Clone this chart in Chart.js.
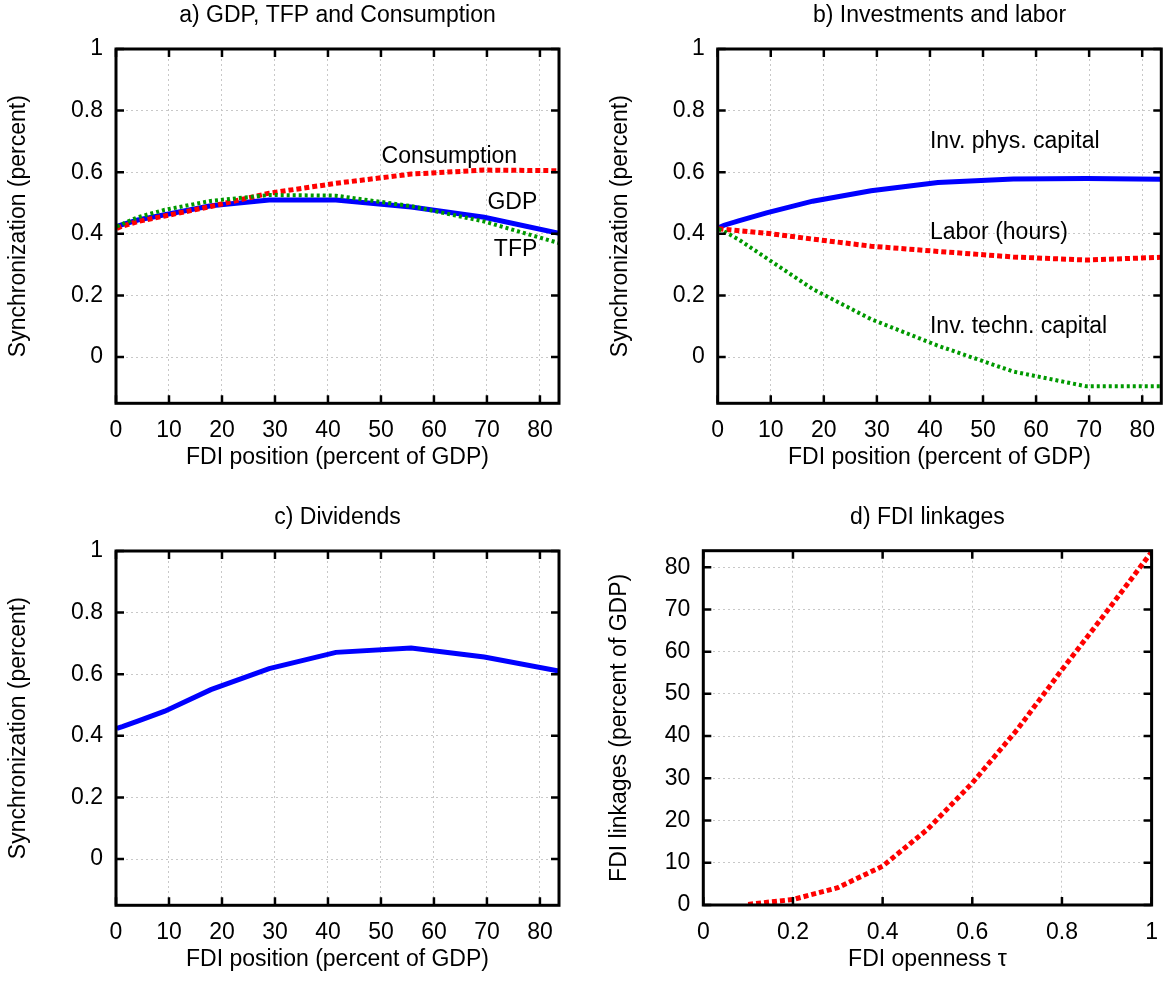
<!DOCTYPE html>
<html lang="en">
<head>
<meta charset="UTF-8">
<title>FDI position and synchronization</title>
<script src="https://cdn.jsdelivr.net/npm/chart.js@4"></script>
<style>
  body { margin: 0; background: #fff; }
  #page { position: relative; width: 1172px; height: 982px; overflow: hidden; }
  .panel { position: absolute; }
</style>
</head>
<body>
<div id="page">
  <div class="panel" style="left:0px;top:0px;width:586px;height:480px"><canvas id="chartA"></canvas></div>
  <div class="panel" style="left:602px;top:0px;width:570px;height:480px"><canvas id="chartB"></canvas></div>
  <div class="panel" style="left:0px;top:502px;width:586px;height:480px"><canvas id="chartC"></canvas></div>
  <div class="panel" style="left:600px;top:502px;width:572px;height:480px"><canvas id="chartD"></canvas></div>
</div>

<script>
// values
const fdiPosition = [0.15, 1.2, 4.1, 9.2, 17.9, 28.9, 41.5, 55.7, 69.5, 83.6];

// a) GDP, TFP and Consumption
const gdp         = [0.424, 0.43, 0.445, 0.462, 0.491, 0.51, 0.51, 0.487, 0.454, 0.402];
const consumption = [0.418, 0.425, 0.44, 0.458, 0.489, 0.532, 0.564, 0.594, 0.607, 0.605];
const tfp         = [0.424, 0.432, 0.454, 0.478, 0.507, 0.526, 0.524, 0.49, 0.44, 0.37];

// b) Investments and labor
const invPhys  = [0.42, 0.428, 0.443, 0.468, 0.506, 0.54, 0.567, 0.578, 0.58, 0.577];
const labor    = [0.417, 0.415, 0.41, 0.402, 0.383, 0.36, 0.343, 0.325, 0.315, 0.324];
const invTechn = [0.415, 0.408, 0.38, 0.321, 0.221, 0.123, 0.037, -0.047, -0.095, -0.095];

// c) Dividends
const dividends = [0.424, 0.43, 0.448, 0.48, 0.55, 0.618, 0.671, 0.685, 0.656, 0.61];

// d) FDI linkages
const openness    = [0.1, 0.2, 0.3, 0.4, 0.5, 0.6, 0.7, 0.8, 0.9, 1.0];
const fdiLinkages = [0.15, 1.3, 4.1, 9.2, 17.9, 28.9, 41.5, 55.7, 69.5, 83.6];

Chart.defaults.font.family = "'Liberation Sans', Arial, sans-serif";
Chart.defaults.font.size = 23;
Chart.defaults.color = '#000';

const BLUE = '#0000ff', RED = '#ff0000', GREEN = '#009900';

function pts(xs, ys) {
    return xs.map(function (x, i) { return { x: x, y: ys[i] }; });
}

function fmt(v) {
    return String(Math.round(v * 100) / 100);
}

function solid(color, xs, ys) {
    return { data: pts(xs, ys), borderColor: color, borderWidth: 5, fill: false };
}
function dashed(color, xs, ys) {
    return { data: pts(xs, ys), borderColor: color, borderWidth: 5, borderDash: [5, 3], fill: false };
}
function dotted(color, xs, ys) {
    return { data: pts(xs, ys), borderColor: color, borderWidth: 4, borderDash: [3, 3], fill: false };
}

// gnuplot style box with inward ticks + text labels inside the plot
function makeFrame(notes) {
    return {
        id: 'frame',
        afterDraw: function (chart) {
            const a = chart.chartArea, ctx = chart.ctx;
            const sx = chart.scales.x, sy = chart.scales.y;
            ctx.save();
            ctx.font = "23px 'Liberation Sans', Arial, sans-serif";
            ctx.fillStyle = '#000';
            ctx.textBaseline = 'middle';
            notes.forEach(function (n) {
                ctx.textAlign = n.align;
                ctx.fillText(n.text, sx.getPixelForValue(n.x), sy.getPixelForValue(n.y));
            });
            ctx.strokeStyle = '#000';
            ctx.lineWidth = 2.5;
            ctx.beginPath();
            sx.ticks.forEach(function (t) {
                const p = sx.getPixelForValue(t.value);
                ctx.moveTo(p, a.bottom); ctx.lineTo(p, a.bottom - 8);
                ctx.moveTo(p, a.top); ctx.lineTo(p, a.top + 8);
            });
            sy.ticks.forEach(function (t) {
                const p = sy.getPixelForValue(t.value);
                ctx.moveTo(a.left, p); ctx.lineTo(a.left + 8, p);
                ctx.moveTo(a.right, p); ctx.lineTo(a.right - 8, p);
            });
            ctx.stroke();
            ctx.lineWidth = 3;
            ctx.strokeRect(a.left, a.top, a.right - a.left, a.bottom - a.top);
            ctx.restore();
        }
    };
}

function axis(min, max, step, label, size, titlePad, tickPad, horizontal) {
    return {
        type: 'linear',
        min: min,
        max: max,
        afterFit: function (s) {
            if (horizontal) s.height = size; else s.width = size;
        },
        grid: { color: '#c8c8c8', lineWidth: 1, drawTicks: false },
        border: { display: false, dash: [2, 3] },
        ticks: { stepSize: step, includeBounds: false, autoSkip: false, maxRotation: 0, padding: tickPad, callback: fmt },
        title: {
            display: true, text: label,
            padding: horizontal ? { top: 0, bottom: titlePad } : { top: titlePad, bottom: 0 }
        }
    };
}

function makePanel(id, g, title, xAxis, yAxis, datasets, notes) {
    return new Chart(document.getElementById(id), {
        type: 'line',
        data: { datasets: datasets },
        options: {
            responsive: true,
            maintainAspectRatio: false,
            animation: false,
            layout: { padding: { left: 0, top: 0, right: g.padRight, bottom: 0 } },
            plugins: {
                legend: { display: false },
                tooltip: { enabled: false },
                title: {
                    display: true, text: title, fullSize: false,
                    font: { size: 23, weight: 'normal' },
                    padding: { top: 2, bottom: g.titleBottom }
                }
            },
            elements: { point: { radius: 0 }, line: { tension: 0, borderCapStyle: 'butt' } },
            scales: { x: xAxis, y: yAxis }
        },
        plugins: [makeFrame(notes)]
    });
}

const xFdi = 'FDI position (percent of GDP)';
const ySync = 'Synchronization (percent)';

makePanel('chartA', { padRight: 27, titleBottom: 19.4 }, 'a) GDP, TFP and Consumption',
    axis(0, 83.6, 10, xFdi, 76.7, 9, 14, true),
    axis(-0.15, 1, 0.2, ySync, 116, 5, 13, false),
    [dotted(GREEN, fdiPosition, tfp), dashed(RED, fdiPosition, consumption), solid(BLUE, fdiPosition, gdp)],
    [{ text: 'Consumption', x: 75.7, y: 0.651, align: 'right' },
     { text: 'GDP', x: 79.5, y: 0.5, align: 'right' },
     { text: 'TFP', x: 79.5, y: 0.35, align: 'right' }]);

makePanel('chartB', { padRight: 10.7, titleBottom: 19.4 }, 'b) Investments and labor',
    axis(0, 83.6, 10, xFdi, 76.7, 9, 14, true),
    axis(-0.15, 1, 0.2, ySync, 115.7, 5, 13, false),
    [dotted(GREEN, fdiPosition, invTechn), dashed(RED, fdiPosition, labor), solid(BLUE, fdiPosition, invPhys)],
    [{ text: 'Inv. phys. capital', x: 40, y: 0.7, align: 'left' },
     { text: 'Labor (hours)', x: 40, y: 0.403, align: 'left' },
     { text: 'Inv. techn. capital', x: 40, y: 0.1, align: 'left' }]);

makePanel('chartC', { padRight: 27, titleBottom: 19.4 }, 'c) Dividends',
    axis(0, 83.6, 10, xFdi, 76.7, 9, 14, true),
    axis(-0.15, 1, 0.2, ySync, 116, 5, 13, false),
    [solid(BLUE, fdiPosition, dividends)],
    []);

makePanel('chartD', { padRight: 10.7, titleBottom: 19.1 }, 'd) FDI linkages',
    axis(0, 1, 0.2, 'FDI openness \u03c4', 77, 9, 14, true),
    axis(0, 83.9, 10, 'FDI linkages (percent of GDP)', 103.3, 6.2, 13, false),
    [dashed(RED, openness, fdiLinkages)],
    []);
</script>
</body>
</html>
